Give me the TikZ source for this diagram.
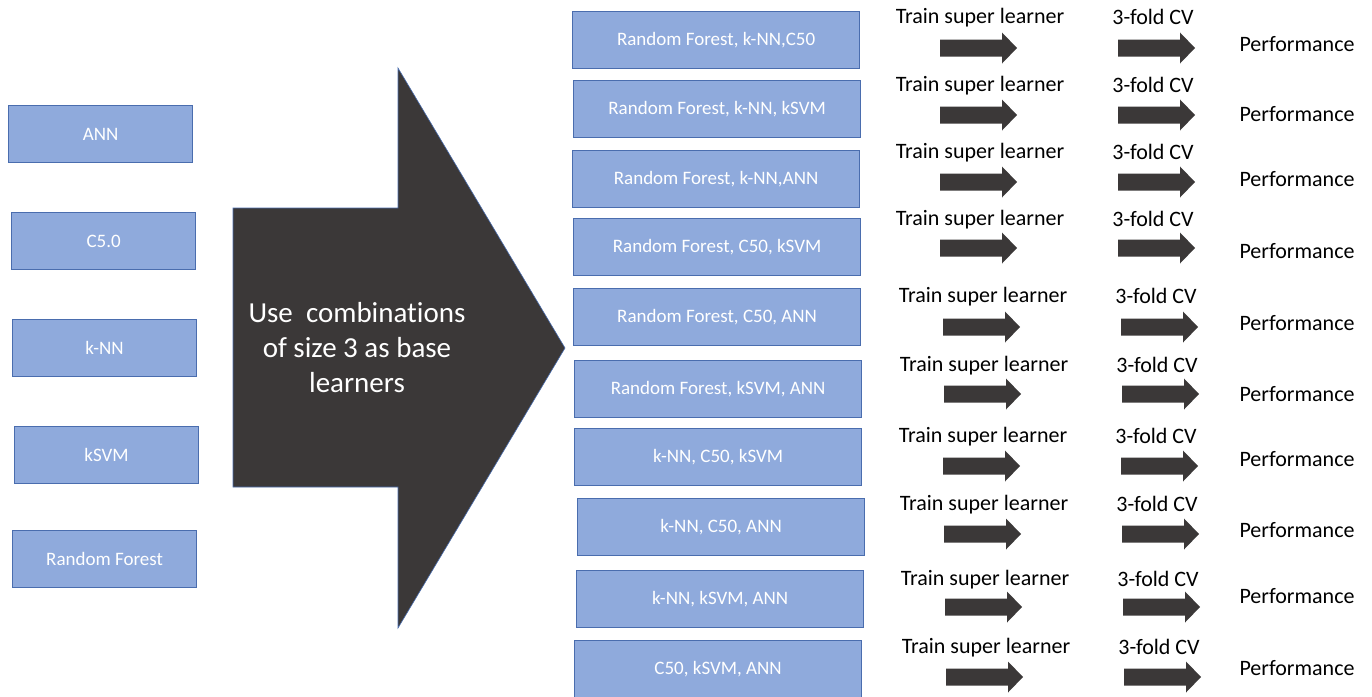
\documentclass[tikz,border=0pt]{standalone}
\usepackage{fontspec}
\setmainfont{Carlito}[Ligatures=NoCommon]
\definecolor{boxblue}{HTML}{8FAADC}
\definecolor{boxline}{HTML}{4A6DAE}
\definecolor{arrowgray}{HTML}{3B3838}
\tikzset{
  learner/.style={draw=boxline,line width=1.2pt,fill=boxblue,text=white,
    minimum width=184pt,minimum height=57pt,inner sep=0pt,anchor=north west,
    font=\fontsize{19}{21}\selectfont},
  combo/.style={learner,minimum width=287pt},
  lbl/.style={inner sep=0pt,font=\fontsize{22}{24}\selectfont},
  fatarrow/.pic={
    \fill[arrowgray] (0,-8.5) -- (62,-8.5) -- (62,-15.5) -- (77,0)
      -- (62,15.5) -- (62,8.5) -- (0,8.5) -- cycle;
  }
}

\begin{document}
\begin{tikzpicture}[x=1pt,y=-1pt]
    \useasboundingbox (0,0) rectangle (1372,696);

    % single learners
    \node[learner] (ann) at (8,105) {ANN};
    \node[learner] (c50) at (11,212) {C5.0};
    \node[learner] (knn) at (12,319) {k-NN};
    \node[learner] (ksvm) at (14,426) {kSVM};
    \node[learner] (rf) at (12,530) {Random Forest};

    % big arrow
    \filldraw[fill=arrowgray,draw=boxline,line width=0.6pt]
      (233,208) -- (398,208) -- (398,68) -- (565,348) -- (398,628)
      -- (398,487) -- (233,487) -- cycle;
    \node[text=white,align=center,font=\fontsize{29}{35}\selectfont] (use) at (357,348)
      {Use\ \ combinations\\of size 3 as base\\learners};

    % combinations, training and CV
    \foreach \n/\bx/\by/\ty/\ay/\py/\dx/\txt in {
        1/572/11/18/48/44/0/{Random Forest, k-NN,C50},
        2/573/80/86/115/114/0/{Random Forest, k-NN, kSVM},
        3/572/150/153/182/179/0/{Random Forest, k-NN,ANN},
        4/573/218/220/248/251/0/{Random Forest, C50, kSVM},
        5/573/288/297/327/323/3/{Random Forest, C50, ANN},
        6/574/360/366/394/394/4/{Random Forest, kSVM, ANN},
        7/574/428/437/466/459/3/{k-NN, C50, kSVM},
        8/577/498/505/534/530/4/{k-NN, C50, ANN},
        9/576/570/580/607/596/5/{k-NN, kSVM, ANN},
        10/574/640/648/677/668/6/{C50, kSVM, ANN}} {
      \node[combo] (combo\n) at (\bx,\by) {\txt};
      \node[lbl] (train\n) at (980+\dx,\ty) {Train super learner};
      \node[lbl] (cv\n) at (1153+\dx,\ty-1) {3-fold CV};
      \node[lbl] (perf\n) at (1297,\py) {Performance};
      \pic at (940+\dx,\ay) {fatarrow};
      \pic at (1118+\dx,\ay) {fatarrow};
    }
\end{tikzpicture}
\end{document}
